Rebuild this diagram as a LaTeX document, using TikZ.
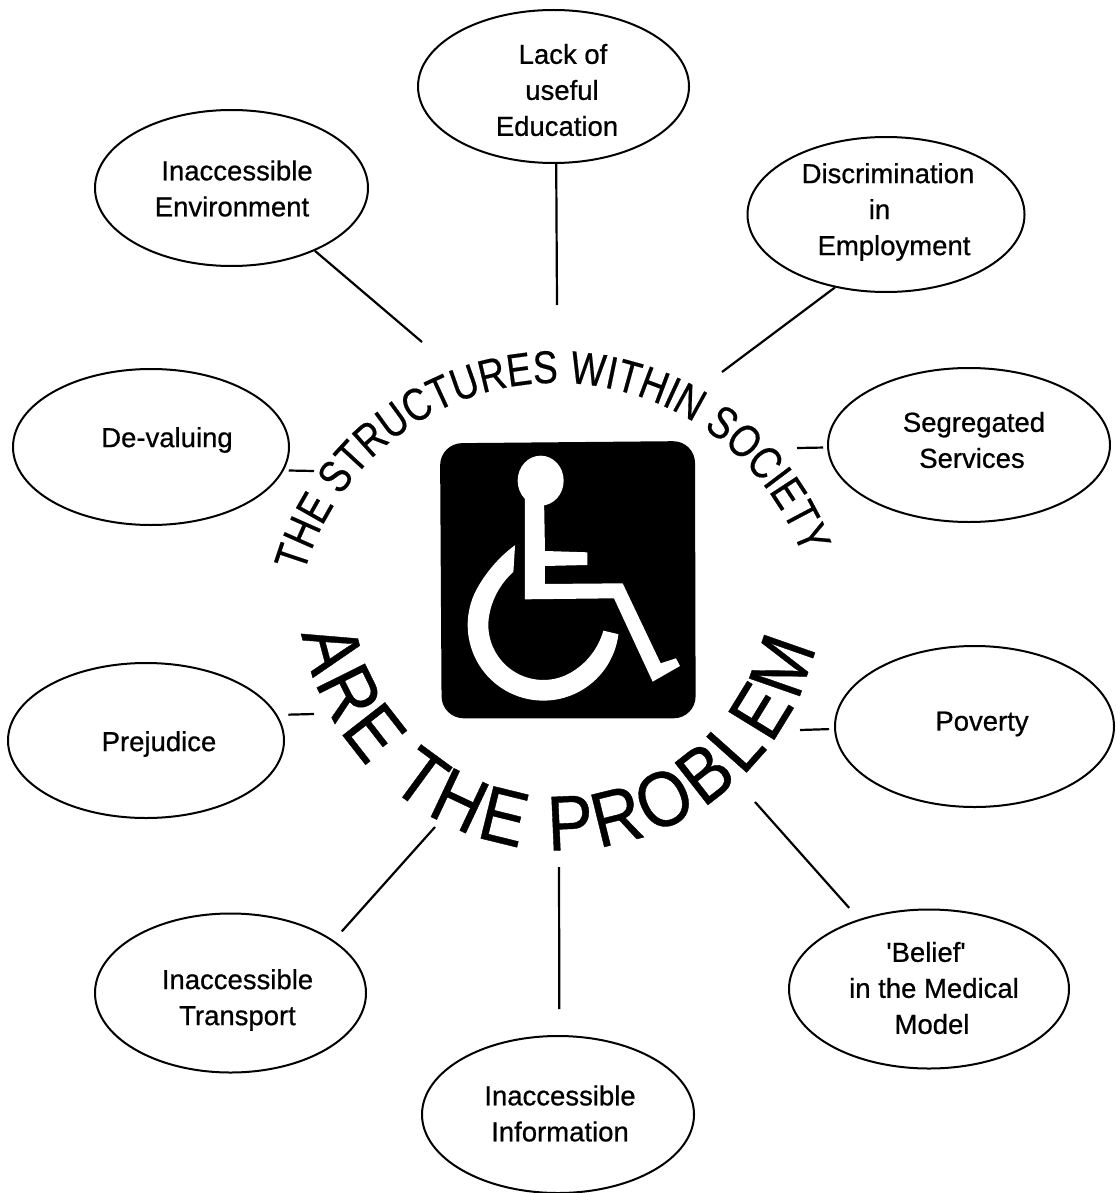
\documentclass[tikz,border=0pt]{standalone}
\usepackage{fontspec}
\setmainfont{Liberation Sans}
\newfontfamily\labelfont[FakeBold=0.7]{Liberation Sans}
\newfontfamily\arcfont[FakeStretch=0.81,FakeBold=0.4]{Liberation Sans}
\newfontfamily\bigarcfont[FakeStretch=0.88,FakeBold=0.5]{Liberation Sans}
\usetikzlibrary{decorations.text,shapes.geometric}
\tikzset{
  cause/.style={draw,ellipse,line width=2pt,inner sep=0pt},
  causetext/.style={inner sep=0pt,align=center,font=\labelfont\fontsize{27.5}{36}\selectfont},
  link/.style={line width=2.2pt},
}
\newcommand{\causenode}[8]{%
  \node[cause,minimum width=#4pt,minimum height=#5pt] (#1) at (#2,#3) {};
  \node[causetext] (#1T) at (#6,#7) {#8};}
\begin{document}
\begin{tikzpicture}[x=1pt,y=-1pt]
\useasboundingbox (0,0) rectangle (1116,1193);
% ellipses and their labels
\causenode{edu}{553.5}{86.5}{271}{153}{561}{90}{\hspace*{4pt}Lack of\\\hspace*{2pt}useful\\Education\rule{8pt}{0pt}}
\causenode{env}{231.5}{188}{273}{156}{235}{188.5}{\hspace*{4pt}Inaccessible\\Environment\rule{6pt}{0pt}}
\causenode{disc}{886}{214.5}{277}{155}{888}{212}{Discrimination\\in\rule{17pt}{0pt}\\\hspace*{12pt}Employment}
\causenode{seg}{969}{445}{282}{154}{972}{440}{\hspace*{4pt}Segregated\\Services}
\causenode{dev}{151}{447}{276}{156}{167}{440}{De-valuing}
\causenode{prej}{146}{740.5}{276}{155}{159}{744}{Prejudice}
\causenode{pov}{974.5}{726.5}{279}{161}{982}{724}{Poverty}
\causenode{bel}{929}{989}{280}{159}{932}{988}{\textquotesingle Belief\textquotesingle\rule{12pt}{0pt}\\\hspace*{4pt}in the Medical\\Model}
\causenode{trans}{230.5}{993}{271}{159}{237.5}{1000}{Inaccessible\\Transport}
\causenode{info}{558}{1114.5}{272}{157}{560}{1113.5}{Inaccessible\\Information}
% connector free ends
\coordinate (cEdu) at (557,305);
\coordinate (cEnv) at (422,342);
\coordinate (cDisc) at (722,372);
\coordinate (cSeg) at (797,448);
\coordinate (cDev) at (314,471);
\coordinate (cPrej) at (314,714);
\coordinate (cPov) at (800,730);
\coordinate (cBel) at (755,802);
\coordinate (cTrans) at (435,827);
\coordinate (cInfo) at (559,867);
\draw[link] (edu.272.6) -- (cEdu);
\draw[link] (env.-37.7) -- (cEnv);
\draw[link] (disc.235.4) -- (cDisc);
\draw[link,shorten <=4pt] (seg.181.2) -- (cSeg);
\draw[link,shorten <=5pt] (dev.-10.4) -- (cDev);
\draw[link,shorten <=11pt] (prej.11) -- (cPrej);
\draw[link,shorten <=5pt] (pov.181.5) -- (cPov);
\draw[link,shorten <=15pt] (bel.135.7) -- (cBel);
\draw[link,shorten <=12pt] (trans.27.1) -- (cTrans);
\draw[link,shorten <=26pt] (info.89.5) -- (cInfo);
% arc texts
\begin{scope}[x=1pt,y=1pt]
\path[decorate,decoration={text along path,text align=fit to path,
  text={|\arcfont\fontsize{46}{46}\selectfont|THE STRUCTURES WITHIN SOCIETY}}]
  ({556+262*cos(164)},{-645+262*sin(164)}) arc[start angle=164,end angle=20,radius=262pt];
\path[decorate,decoration={text along path,text align=fit to path,
  text={|\bigarcfont\fontsize{78}{78}\selectfont|ARE THE PROBLEM}}]
  ({560+262*cos(190)},{-588+262*sin(190)}) arc[start angle=190,end angle=347,radius=262pt];
\end{scope}
% symbol
\begin{scope}[shift={(430,430)},x=0.3333pt,y=-0.3333pt]
\fill[black,rounded corners=22pt] (30,40) -- (795,33) -- (797,865) -- (35,865) -- cycle;
\fill[white] (332,152) ellipse [x radius=23pt,y radius=25pt];
\fill[white] (285,200) -- (285,508) -- (552,505) -- (668,755) -- (750,708) -- (738,685) -- (692,700) -- (578,460) -- (345,462) -- (345,408) -- (472,405) -- (472,367) -- (345,363) -- (342,200) -- cycle;
\fill[white] plot[domain=109.5:353,samples=70] ({340+(227+27*(max(0,(150-\x)/40.5))^2)*cos(\x)},{585-(227+27*(max(0,(150-\x)/40.5))^2)*sin(\x)})
 -- plot[domain=354.6:119.4,samples=70] ({340+(165+16*(max(0,(\x-300)/54.6))^2+18*(max(0,(170-\x)/50.6))^2)*cos(\x)},{585-(165+16*(max(0,(\x-300)/54.6))^2+18*(max(0,(170-\x)/50.6))^2)*sin(\x)}) -- cycle;
\end{scope}
\end{tikzpicture}
\end{document}
